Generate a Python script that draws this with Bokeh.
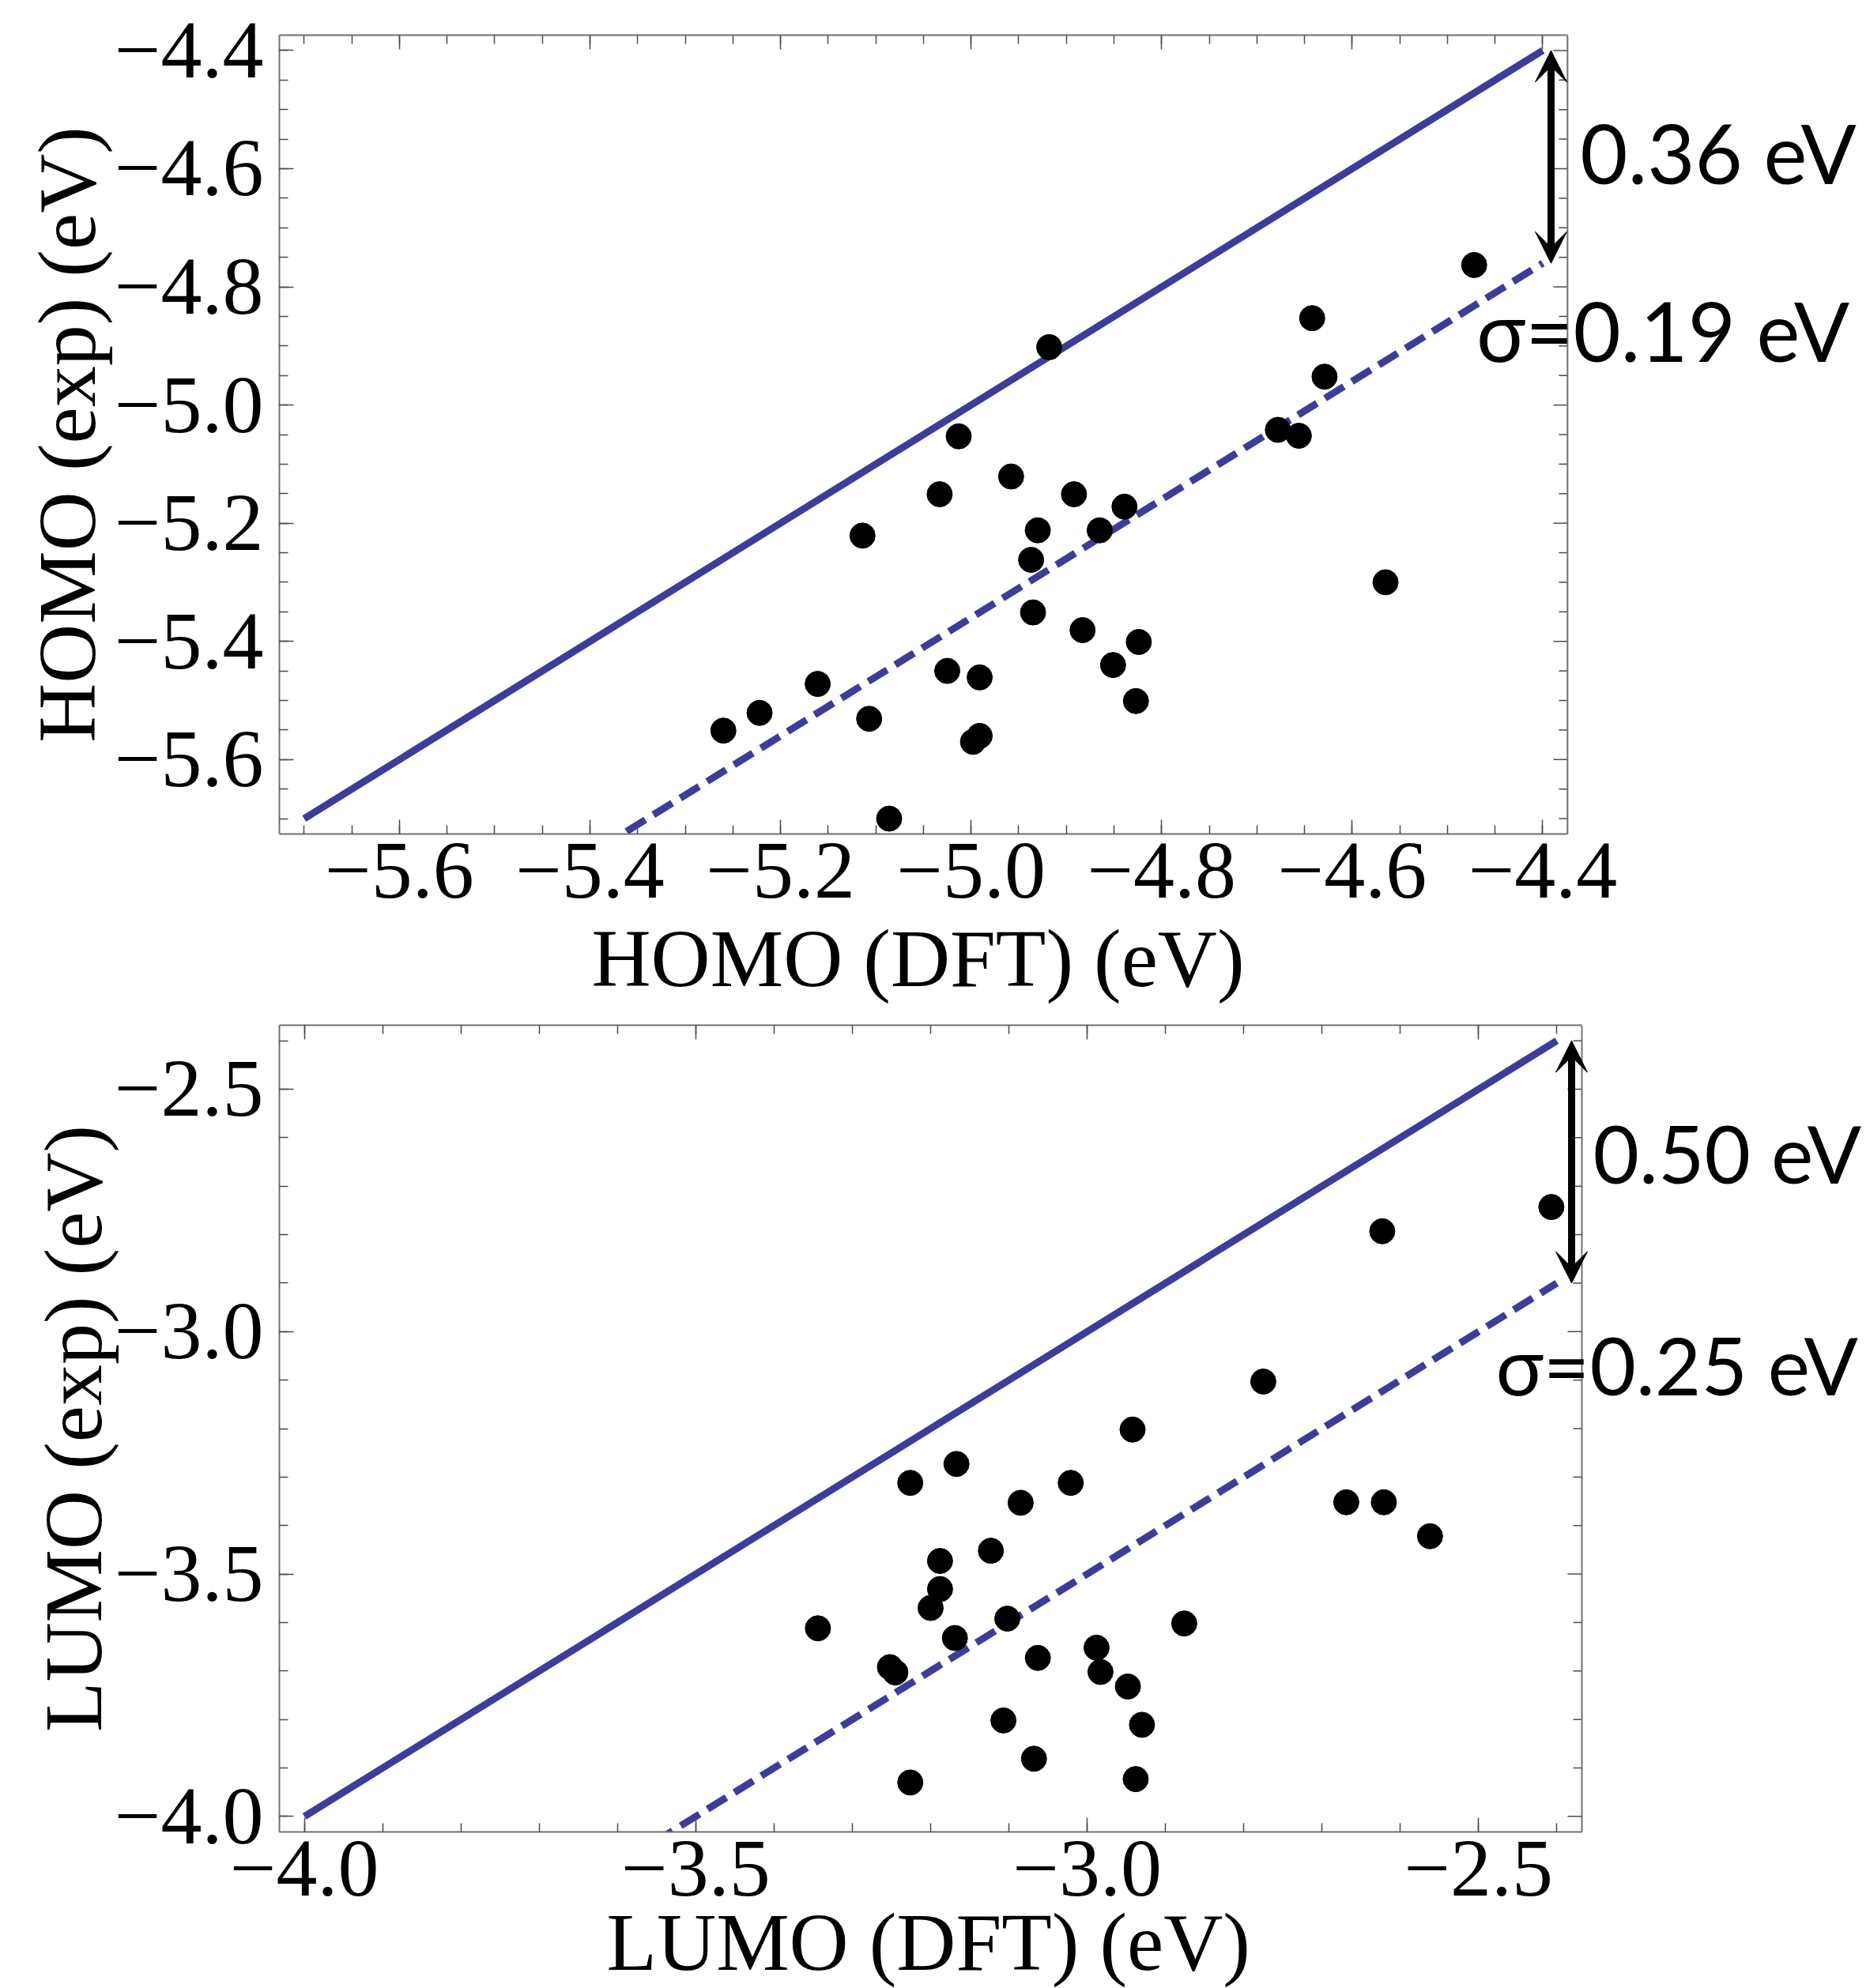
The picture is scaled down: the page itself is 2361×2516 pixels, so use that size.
from bokeh.plotting import figure
from bokeh.models import (Range1d, FixedTicker, LinearAxis, Label, Arrow, VeeHead, Span, Title,
                          ColumnDataSource, CustomJSTickFormatter)
from bokeh.layouts import column
from bokeh.embed import file_html
from bokeh.resources import INLINE

# ---------------- data ----------------
homo_dft = [-4.472, -4.642, -4.918, -4.629, -4.678, -4.656, -5.013, -5.033, -4.958, -4.892,
            -5.114, -4.930, -4.865, -4.839, -4.937, -4.565, -4.935, -4.883, -4.824, -5.025,
            -4.991, -4.851, -5.161, -5.222, -5.260, -5.107, -4.827, -4.991, -4.998, -5.086]
homo_exp = [-4.763, -4.853, -4.902, -4.952, -5.042, -5.052, -5.053, -5.151, -5.121, -5.151,
            -5.221, -5.212, -5.212, -5.172, -5.262, -5.300, -5.351, -5.381, -5.401, -5.450,
            -5.461, -5.440, -5.472, -5.521, -5.551, -5.531, -5.501, -5.560, -5.570, -5.700]

lumo_dft = [-2.407, -2.623, -2.775, -2.942, -3.167, -3.226, -3.021, -3.085, -2.669, -2.621,
            -2.562, -3.123, -3.188, -3.188, -3.200, -3.344, -3.102, -2.876, -3.169, -2.988,
            -3.063, -3.252, -3.245, -2.983, -2.948, -3.107, -2.930, -3.068, -3.226, -2.938]
lumo_exp = [-2.743, -2.793, -3.103, -3.202, -3.273, -3.312, -3.312, -3.353, -3.352, -3.352,
            -3.422, -3.452, -3.473, -3.531, -3.570, -3.612, -3.592, -3.602, -3.632, -3.652,
            -3.673, -3.692, -3.703, -3.702, -3.732, -3.802, -3.811, -3.881, -3.930, -3.923]

homo_line = [-5.7, -4.4]
lumo_line = [-4.0, -2.4]
homo_shift, homo_sigma = 0.36, 0.19
lumo_shift, lumo_sigma = 0.50, 0.25

homo_major = [-5.6, -5.4, -5.2, -5.0, -4.8, -4.6, -4.4]
homo_minor = [round(-5.7 + 0.05 * i, 2) for i in range(27)]
lumo_major = [-4.0, -3.5, -3.0, -2.5]
lumo_minor = [round(-4.0 + 0.1 * i, 2) for i in range(17)]

BLUE = "#3d3d99"
FRAME = "#707070"
TICK = "#4a4a4a"
SERIF = "Liberation Serif"
SANS = "Lato"
FS = "104px"

minus_fmt = CustomJSTickFormatter(code="return (tick < 0 ? '\\u2212' : '') + Math.abs(tick).toFixed(1);")
blank_fmt = CustomJSTickFormatter(code="return '';")


def style_axis(ax, major, minor, fmt, bounds, label=None):
    ax.ticker = FixedTicker(ticks=major, minor_ticks=minor)
    ax.formatter = fmt
    ax.bounds = bounds
    ax.axis_line_color = FRAME
    ax.axis_line_width = 2
    ax.major_tick_line_color = TICK
    ax.minor_tick_line_color = TICK
    ax.major_tick_line_width = 1.5
    ax.minor_tick_line_width = 1.5
    ax.major_tick_in = 18
    ax.major_tick_out = 0
    ax.minor_tick_in = 11
    ax.minor_tick_out = 0
    ax.major_label_text_font = SERIF
    ax.major_label_text_font_size = FS
    ax.major_label_text_color = "black"
    if label is not None:
        ax.axis_label = label
        ax.axis_label_text_font = SERIF
        ax.axis_label_text_font_size = FS
        ax.axis_label_text_font_style = "normal"
        ax.axis_label_text_color = "black"


def panel(dft, exp, line, shift, sigma, lo, hi, major, minor, xlab, ylab,
          h, bl, bt, bb, x_right, arrow_x, txt1, txt2, note_fs,
          xstand, ystand, yls, xlab_offset, xlab_standoff):
    W = 2361
    p = figure(width=W, height=h, output_backend="svg", toolbar_location=None,
               x_range=Range1d(lo, x_right), y_range=Range1d(lo, hi),
               min_border_left=bl, min_border_right=0, min_border_top=bt, min_border_bottom=bb,
               x_axis_location=None, y_axis_location=None)
    p.grid.visible = False
    p.outline_line_color = None
    p.background_fill_color = "white"
    p.border_fill_color = "white"

    xb = LinearAxis()
    style_axis(xb, major, minor, minus_fmt, (lo, hi))
    xb.major_label_standoff = xstand
    yl = LinearAxis()
    style_axis(yl, major, minor, minus_fmt, (lo, hi), ylab)
    yl.major_label_standoff = ystand
    yl.axis_label_standoff = yls
    xt = LinearAxis()
    style_axis(xt, major, minor, blank_fmt, (lo, hi))
    xt.major_label_text_font_size = "1px"
    xt.major_label_standoff = 0
    p.add_layout(xb, "below")
    p.add_layout(yl, "left")
    p.add_layout(xt, "above")
    # x-axis title, placed under the boxed region of the frame
    p.add_layout(Title(text=xlab, align="left", offset=xlab_offset, standoff=xlab_standoff,
                       text_font=SERIF, text_font_size=FS, text_font_style="normal",
                       text_color="black"), "below")

    # right edge of the frame, with inward ticks
    p.add_layout(Span(location=hi, dimension="height", line_color=FRAME, line_width=2))
    px_per_unit = (W - bl) / (x_right - lo)
    maj_len = 18 / px_per_unit
    min_len = 11 / px_per_unit
    minor_only = [m for m in minor if all(abs(m - t) > 1e-9 for t in major)]
    p.segment(x0=[hi] * len(major), y0=major, x1=[hi - maj_len] * len(major), y1=major,
              line_color=TICK, line_width=1.5)
    p.segment(x0=[hi] * len(minor_only), y0=minor_only, x1=[hi - min_len] * len(minor_only),
              y1=minor_only, line_color=TICK, line_width=1.5)

    # reference line y = x and shifted line y = x - shift
    p.line(line, line, line_color=BLUE, line_width=9)
    p.line(line, [v - shift for v in line], line_color=BLUE, line_width=9, line_dash="28 12")

    src = ColumnDataSource(dict(x=dft, y=exp))
    p.scatter("x", "y", source=src, size=32, fill_color="black", line_color="black")

    top = line[1]
    bot = line[1] - shift
    p.add_layout(Arrow(x_start=arrow_x, y_start=bot, x_end=arrow_x, y_end=top,
                       line_width=9, line_color="black",
                       start=VeeHead(size=40, fill_color="black", line_color="black", line_width=1),
                       end=VeeHead(size=40, fill_color="black", line_color="black", line_width=1)))

    (x1, y1), (x2, y2) = txt1, txt2
    p.add_layout(Label(x=x1, y=y1, text=f"{shift:.2f} eV", text_font=SANS,
                       text_font_size=note_fs, text_color="black", text_baseline="alphabetic"))
    p.add_layout(Label(x=x2, y=y2, text=f"\u03c3={sigma:.2f} eV", text_font=SANS,
                       text_font_size=note_fs, text_color="black", text_baseline="alphabetic"))
    return p


p1 = panel(homo_dft, homo_exp, homo_line, homo_shift, homo_sigma, -5.726, -4.374,
           homo_major, homo_minor, "HOMO (DFT) (eV)", "HOMO (exp) (eV)",
           1288, 343, 44, 233, -4.0603, -4.3913,
           (-4.3607, -4.572), (-4.4697, -4.873), "104px",
           12, 20, 0, 395, 28)

p2 = panel(lumo_dft, lumo_exp, lumo_line, lumo_shift, lumo_sigma, -4.032, -2.368,
           lumo_major, lumo_minor, "LUMO (DFT) (eV)", "LUMO (exp) (eV)",
           1228, 353, 9, 198, -2.0045, -2.3811,
           (-2.3539, -2.631), (-2.4781, -3.068), "101px",
           12, 20, -8, 414, -8)

layout = column(p1, p2, spacing=0)
open("out.html", "w").write(file_html(layout, INLINE))
